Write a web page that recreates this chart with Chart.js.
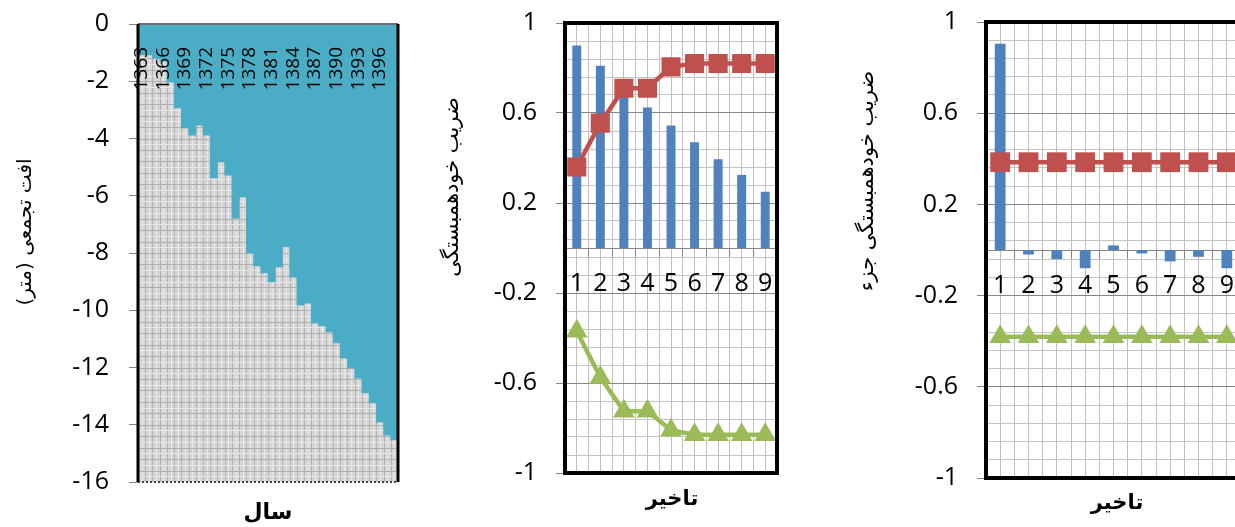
<!DOCTYPE html>
<html>
<head>
<meta charset="utf-8">
<script src="https://cdn.jsdelivr.net/npm/chart.js@4.4.1/dist/chart.umd.min.js"></script>
<style>
  html, body { margin: 0; padding: 0; background: #fff; width: 1235px; height: 527px; overflow: hidden; }
  canvas { position: absolute; top: 0; }
  #drawdownChart { left: 0; }
  #acfChart { left: 420px; }
  #pacfChart { left: 840px; }
</style>
</head>
<body>
<canvas id="drawdownChart" width="420" height="527"></canvas>
<canvas id="acfChart" width="400" height="527"></canvas>
<canvas id="pacfChart" width="440" height="527"></canvas>
<script>
// Data
const years = ['1363', '1364', '1365', '1366', '1367', '1368', '1369', '1370', '1371', '1372',
    '1373', '1374', '1375', '1376', '1377', '1378', '1379', '1380', '1381', '1382',
    '1383', '1384', '1385', '1386', '1387', '1388', '1389', '1390', '1391', '1392',
    '1393', '1394', '1395', '1396', '1397', '1398'];
const drawdown = [-1.08, -1.08, -1.2, -1.3, -2.03, -2.93, -3.63, -3.88, -3.53, -3.88,
    -5.38, -4.82, -5.28, -6.78, -6.04, -8.0, -8.45, -8.7, -9.01, -8.49,
    -7.79, -8.84, -9.82, -9.75, -10.45, -10.55, -10.76, -11.14, -11.67, -12.02,
    -12.37, -12.89, -13.24, -13.9, -14.36, -14.53];
const depthTicks = [0, -2, -4, -6, -8, -10, -12, -14, -16];

const lags = ['1', '2', '3', '4', '5', '6', '7', '8', '9'];
const acf = [0.90, 0.81, 0.71, 0.625, 0.545, 0.47, 0.395, 0.325, 0.25];
const acfUpper = [0.36, 0.555, 0.71, 0.71, 0.805, 0.82, 0.82, 0.82, 0.82];
const acfLower = [-0.37, -0.575, -0.725, -0.725, -0.81, -0.83, -0.83, -0.83, -0.83];
const pacf = [0.905, -0.02, -0.04, -0.08, 0.02, -0.015, -0.05, -0.03, -0.08];
const pacfUpper = [0.385, 0.385, 0.385, 0.385, 0.385, 0.385, 0.385, 0.385, 0.385];
const pacfLower = [-0.38, -0.38, -0.38, -0.38, -0.38, -0.38, -0.38, -0.38, -0.38];
const corrTicks = [-1, -0.6, -0.2, 0.2, 0.6, 1];

Chart.defaults.font.family = "'Open Sans', sans-serif";
Chart.defaults.color = '#000';
Chart.defaults.animation = false;
Chart.defaults.plugins.legend.display = false;
Chart.defaults.plugins.tooltip.enabled = false;

// keep the plot area where layout.padding puts it
const noOverhang = s => { s.paddingTop = s.paddingBottom = s.paddingLeft = s.paddingRight = 0; };

// Plot decorations: hatched background, frame, persian titles
const decor = {
    id: 'decor',
    beforeDatasetsDraw(chart, args, opts) {
        if (!opts.hatch) return;
        const { ctx, chartArea: a, scales } = chart;
        const xs = scales.x, ys = scales.y;
        const n = chart.data.labels.length;
        const w = a.width / n;
        ctx.save();
        ctx.fillStyle = '#d6d6d6';
        ctx.fillRect(a.left, a.top, a.width, a.height);
        ctx.lineWidth = 1;
        for (let i = 0; i < n; i++) {
            const px = xs.getPixelForValue(i) - w / 2;
            ctx.strokeStyle = '#b0b0b0';
            ctx.beginPath(); ctx.moveTo(Math.round(px) + 0.5, a.top); ctx.lineTo(Math.round(px) + 0.5, a.bottom); ctx.stroke();
            ctx.strokeStyle = '#e8e8e8';
            ctx.beginPath(); ctx.moveTo(Math.round(px + w / 2) + 0.5, a.top); ctx.lineTo(Math.round(px + w / 2) + 0.5, a.bottom); ctx.stroke();
        }
        for (let v = 0; v >= ys.min; v -= 0.4) {
            const py = ys.getPixelForValue(v);
            ctx.strokeStyle = '#b0b0b0';
            ctx.beginPath(); ctx.moveTo(a.left, Math.round(py) + 0.5); ctx.lineTo(a.right, Math.round(py) + 0.5); ctx.stroke();
            ctx.strokeStyle = '#e6e6e6';
            const py2 = ys.getPixelForValue(v - 0.2);
            ctx.beginPath(); ctx.moveTo(a.left, Math.round(py2) + 0.5); ctx.lineTo(a.right, Math.round(py2) + 0.5); ctx.stroke();
        }
        ctx.restore();
    },
    afterDraw(chart, args, opts) {
        const { ctx, chartArea: a } = chart;
        ctx.save();
        if (opts.frame === 'box') {
            ctx.strokeStyle = '#000';
            ctx.lineWidth = 4;
            ctx.strokeRect(a.left, a.top, a.width, a.height);
        } else if (opts.frame === 'sides') {
            ctx.strokeStyle = '#6f6f6f';
            ctx.lineWidth = 2;
            ctx.beginPath(); ctx.moveTo(a.left, a.top); ctx.lineTo(a.right, a.top); ctx.stroke();
            ctx.setLineDash([2, 2]);
            ctx.strokeStyle = '#444';
            ctx.beginPath(); ctx.moveTo(a.left, a.bottom); ctx.lineTo(a.right, a.bottom); ctx.stroke();
            ctx.setLineDash([]);
            ctx.strokeStyle = '#000';
            ctx.lineWidth = 3;
            ctx.beginPath(); ctx.moveTo(a.left, a.top); ctx.lineTo(a.left, a.bottom); ctx.stroke();
            ctx.beginPath(); ctx.moveTo(a.right, a.top); ctx.lineTo(a.right, a.bottom); ctx.stroke();
        }
        (opts.titles || []).forEach(t => {
            ctx.save();
            ctx.translate(t.x, t.y);
            if (t.rot) ctx.rotate(t.rot);
            ctx.direction = 'rtl';
            ctx.font = t.font;
            ctx.fillStyle = '#000';
            ctx.textAlign = 'center';
            ctx.textBaseline = 'middle';
            ctx.fillText(t.text, 0, 0);
            ctx.restore();
        });
        ctx.restore();
    }
};

// Cumulative drawdown chart
new Chart(document.getElementById('drawdownChart'), {
    type: 'bar',
    data: {
        labels: years,
        datasets: [{
            data: drawdown,
            backgroundColor: '#4BACC6',
            borderWidth: 0,
            barPercentage: 1,
            categoryPercentage: 1
        }]
    },
    options: {
        responsive: false,
        layout: { padding: { left: 0, top: 24, right: 22, bottom: 45 } },
        scales: {
            x: {
                position: { y: 0 },
                afterFit: noOverhang,
                grid: { display: false },
                border: { display: false },
                ticks: {
                    z: 1,
                    autoSkip: false,
                    minRotation: 90,
                    maxRotation: 90,
                    padding: 15,
                    font: { size: 19 },
                    callback: (v, i) => (i % 3 === 0 ? years[i] : '')
                }
            },
            y: {
                min: -16,
                max: 0,
                afterBuildTicks: s => { s.ticks = depthTicks.map(v => ({ value: v })); },
                afterFit: s => { s.width = 138; noOverhang(s); },
                grid: { drawOnChartArea: false, tickLength: 9, color: '#868686' },
                border: { display: false },
                ticks: { padding: 20, font: { size: 25 } }
            }
        },
        plugins: {
            decor: {
                hatch: true,
                frame: 'sides',
                titles: [
                    { text: 'افت تجمعی (متر)', x: 26, y: 232, rot: -Math.PI / 2, font: '20px "DejaVu Sans"' },
                    { text: 'سال', x: 268, y: 513, font: 'bold 22px "DejaVu Sans"' }
                ]
            }
        }
    },
    plugins: [decor]
});

// shared options for correlogram charts
function corrOptions(pad, axisWidth, titles) {
    return {
        responsive: false,
        layout: { padding: pad },
        scales: {
            x: {
                position: { y: 0 },
                offset: true,
                afterFit: noOverhang,
                grid: { offset: true, color: '#bfbfbf', tickColor: '#868686', tickLength: 9 },
                border: { display: true, color: '#868686', width: 1 },
                ticks: { padding: 12, font: { size: 25 } }
            },
            xc: {
                type: 'category',
                position: 'bottom',
                offset: true,
                afterFit: s => { s.height = 0; noOverhang(s); },
                grid: { offset: false, color: '#bfbfbf', drawTicks: false },
                border: { display: false },
                ticks: { display: false }
            },
            y: {
                min: -1,
                max: 1,
                afterFit: s => { s.width = axisWidth; noOverhang(s); },
                grid: {
                    color: c => (c.index % 5 === 0 ? '#868686' : '#c4c4c4'),
                    tickColor: c => (c.index % 5 === 0 ? '#868686' : 'rgba(0,0,0,0)'),
                    tickLength: 9
                },
                border: { display: false },
                ticks: {
                    stepSize: 0.08,
                    autoSkip: false,
                    padding: 19,
                    font: { size: 25 },
                    callback: (v, i) => (i % 5 === 0 ? String(corrTicks[i / 5]) : '')
                }
            }
        },
        plugins: { decor: { frame: 'box', titles: titles } }
    };
}

function corrDatasets(bars, upper, lower, sq, tri) {
    return [{
        type: 'line',
        data: upper,
        order: 1,
        borderColor: '#C0504D',
        backgroundColor: '#C0504D',
        borderWidth: 4.5,
        pointStyle: 'rect',
        pointRadius: sq,
        pointBorderWidth: 0
    }, {
        type: 'line',
        data: lower,
        order: 1,
        borderColor: '#9BBB59',
        backgroundColor: '#9BBB59',
        borderWidth: 4.5,
        pointStyle: 'triangle',
        pointRadius: tri,
        pointBorderWidth: 0
    }, {
        type: 'bar',
        data: bars,
        order: 2,
        backgroundColor: '#4F81BD',
        barPercentage: 0.38,
        categoryPercentage: 1
    }];
}

// Autocorrelation chart
new Chart(document.getElementById('acfChart'), {
    type: 'bar',
    data: { labels: lags, datasets: corrDatasets(acf, acfUpper, acfLower, 13.5, 12.5) },
    options: corrOptions({ left: 0, top: 23, right: 43, bottom: 54 }, 145, [
        { text: 'ضریب خودهمبستگی', x: 33, y: 187, rot: -Math.PI / 2, font: '21px "DejaVu Sans"' },
        { text: 'تاخیر', x: 252, y: 500, font: 'bold 21px "DejaVu Sans"' }
    ]),
    plugins: [decor]
});

// Partial autocorrelation chart
new Chart(document.getElementById('pacfChart'), {
    type: 'bar',
    data: { labels: lags, datasets: corrDatasets(pacf, pacfUpper, pacfLower, 14, 12.5) },
    options: corrOptions({ left: 0, top: 22, right: 39, bottom: 49 }, 146, [
        { text: 'ضریب خودهمبستگی جزء', x: 28, y: 181, rot: -Math.PI / 2, font: '21px "DejaVu Sans"' },
        { text: 'تاخیر', x: 277, y: 504, font: 'bold 21px "DejaVu Sans"' }
    ]),
    plugins: [decor]
});
</script>
</body>
</html>
